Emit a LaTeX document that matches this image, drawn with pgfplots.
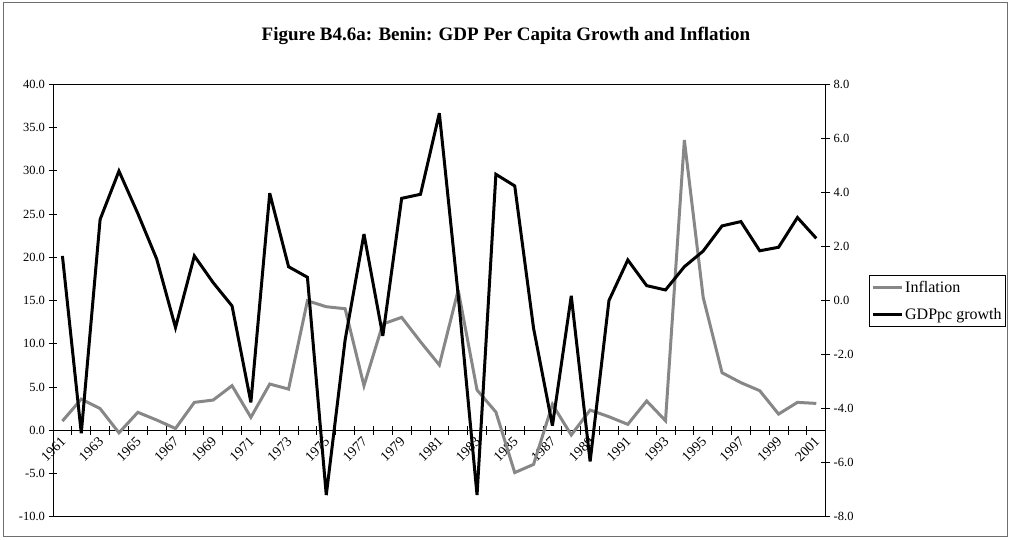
\documentclass[border=0pt]{standalone}
\usepackage{pgfplots}
\pgfplotsset{compat=1.18}
\usepackage{pgfplotstable}
\usepackage{fontspec}
\setmainfont{Liberation Serif}
\definecolor{inflgray}{RGB}{135,135,135}
\definecolor{framegray}{RGB}{110,110,110}

\pgfplotstableread{
year infl gdp
1961 1.06 1.65
1962 3.60 -4.91
1963 2.50 3.00
1964 -0.30 4.79
1965 2.07 3.22
1966 1.18 1.54
1967 0.20 -1.00
1968 3.22 1.65
1969 3.49 0.66
1970 5.15 -0.20
1971 1.49 -3.77
1972 5.34 3.97
1973 4.76 1.25
1974 14.97 0.86
1975 14.28 -7.20
1976 14.05 -1.46
1977 5.15 2.46
1978 12.28 -1.31
1979 13.05 3.78
1980 10.23 3.93
1981 7.54 6.93
1982 16.20 0.20
1983 4.65 -7.20
1984 2.10 4.67
1985 -4.90 4.24
1986 -3.95 -1.03
1987 2.99 -4.63
1988 -0.55 0.17
1989 2.33 -5.96
1990 1.56 0.00
1991 0.68 1.50
1992 3.38 0.55
1993 1.10 0.39
1994 33.55 1.25
1995 15.36 1.83
1996 6.65 2.76
1997 5.50 2.92
1998 4.57 1.84
1999 1.87 1.97
2000 3.22 3.07
2001 3.10 2.30
}\datatable

\pgfplotsset{
  base/.style={
    scale only axis,
    width=772.7pt, height=432.4pt,
    at={(53pt,22.3pt)}, anchor=south west,
    xmin=1960.5, xmax=2001.5,
    tick style={black, line width=0.8pt},
    tick align=center,
    major tick length=9pt,
    tick label style={font=\fontsize{12.5}{14}\selectfont},
    yticklabel style={/pgf/number format/.cd, fixed, fixed zerofill, precision=1, assume math mode=true},
  }
}

\begin{document}
\begin{tikzpicture}[x=1pt,y=1pt]
\path[use as bounding box] (0,0) rectangle (1013,539);
\draw[framegray, line width=1pt] (3.5,2.5) rectangle (1007,536);
\node[anchor=base, font=\fontsize{19}{22}\selectfont\bfseries] at (506,498.3) {Figure B4.6a: Benin: GDP Per Capita Growth and Inflation};

% zero line with category ticks and year labels
\begin{axis}[base,
  ymin=-10, ymax=40,
  axis x line=middle, axis y line=none,
  axis line style={-, black, line width=0.8pt},
  xtick={1961,1963,...,2001},
  xticklabels={1961,1963,1965,1967,1969,1971,1973,1975,1977,1979,1981,1983,1985,1987,1989,1991,1993,1995,1997,1999,2001},
  major tick length=0pt,
  minor xtick={1961.5,1962.5,...,2000.5},
  minor tick length=9pt,
  xticklabel style={font=\fontsize{14}{16}\selectfont, yshift=-9pt, xshift=1pt, rotate=45, anchor=east, inner sep=0pt},
]
\end{axis}

% left axis: inflation
\begin{axis}[base,
  ymin=-10, ymax=40,
  ytick={-10,-5,...,40},
  xtick=\empty,
  ytick pos=left,
  axis line style={black, line width=0.9pt},
]
\addplot[inflgray, line width=3pt, no marks, line join=miter, miter limit=4] table[x=year,y=infl]{\datatable};
\end{axis}

% right axis: GDP per capita growth
\begin{axis}[base,
  ymin=-8, ymax=8,
  ytick={-8,-6,...,8},
  axis y line*=right, axis x line=none,
  axis line style={black, line width=0.9pt},
  legend style={at={(1.0564,0.559)}, anchor=north west, draw=black, line width=0.8pt,
    font=\fontsize{16}{19}\selectfont, inner xsep=1.5pt, inner ysep=4pt, row sep=10pt},
  legend cell align=left,
  legend image code/.code={\draw[#1] (0pt,0pt) -- (29pt,0pt);},
]
\addlegendimage{inflgray, line width=3pt}
\addlegendentry{Inflation}
\addplot[black, line width=3pt, no marks, line join=miter, miter limit=4] table[x=year,y=gdp]{\datatable};
\addlegendentry{GDPpc growth}
\end{axis}
\end{tikzpicture}
\end{document}
